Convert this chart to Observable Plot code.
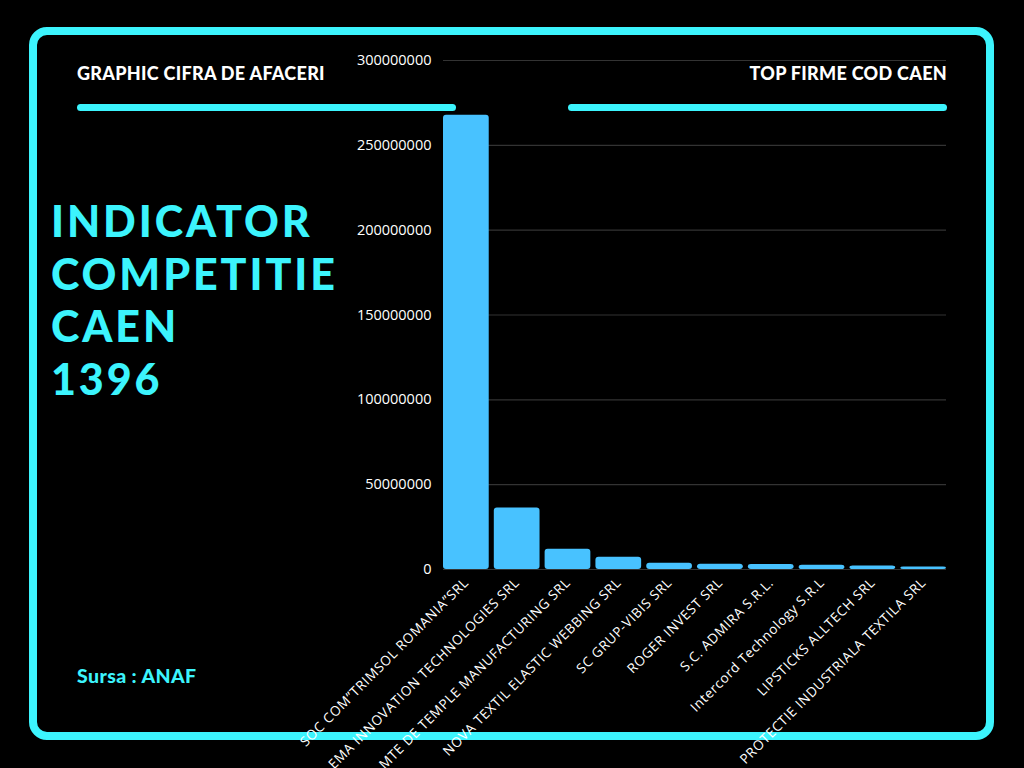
<!DOCTYPE html>
<html>
<head>
<meta charset="utf-8">
<script src="https://cdn.jsdelivr.net/npm/d3@7"></script>
<script src="https://cdn.jsdelivr.net/npm/@observablehq/plot@0.6"></script>
<style>
  html, body { margin: 0; padding: 0; background: #000; }
  body { width: 1024px; height: 768px; position: relative; overflow: hidden; font-family: "Open Sans", sans-serif; }
  .frame { position: absolute; left: 29px; top: 27px; width: 949px; height: 697px; border: 8px solid #3cf4fd; border-radius: 18px; }
  .hdr { position: absolute; color: #fff; font-family: Lato, sans-serif; font-weight: 900; font-size: 18px; top: 62px; letter-spacing: 0.3px; }
  .bar { position: absolute; height: 7px; background: #3cf4fd; border-radius: 4px; top: 104px; }
  .big { position: absolute; left: 51px; top: 195px; color: #3cf4fd; font-family: Lato, sans-serif; font-weight: 900; font-size: 43px; line-height: 52.5px; letter-spacing: 2.9px; }
  .src { position: absolute; left: 77px; top: 664px; color: #3cf4fd; font-family: Lato, sans-serif; font-weight: 900; font-size: 19.5px; letter-spacing: 0.4px; }
  #chart { position: absolute; left: 0; top: 0; }
</style>
</head>
<body>
<div class="frame"></div>
<div class="hdr" style="left:77px">GRAPHIC CIFRA DE AFACERI</div>
<div class="hdr" style="right:77px">TOP FIRME COD CAEN</div>
<div class="bar" style="left:77px; width:379px"></div>
<div class="bar" style="left:568px; width:379px"></div>
<div class="big">INDICATOR<br>COMPETITIE<br>CAEN<br>1396</div>
<div class="src">Sursa : ANAF</div>
<div id="chart"></div>
<script>
const firme = [
  "SOC COM”TRIMSOL ROMANIA”SRL",
  "EMA INNOVATION TECHNOLOGIES SRL",
  "MTE DE TEMPLE MANUFACTURING SRL",
  "NOVA TEXTIL ELASTIC WEBBING SRL",
  "SC GRUP-VIBIS SRL",
  "ROGER INVEST SRL",
  "S.C. ADMIRA S.R.L.",
  "Intercord Technology S.R.L",
  "LIPSTICKS ALLTECH SRL",
  "PROTECTIE INDUSTRIALA TEXTILA SRL"
];
const cifraAfaceri = [267700000, 36300000, 12000000, 7200000, 3700000, 3100000, 2900000, 2500000, 2100000, 1500000];
const yTicks = [0, 50000000, 100000000, 150000000, 200000000, 250000000, 300000000];

const data = firme.map((f, i) => ({firma: f, valoare: cifraAfaceri[i]}));

const chart = Plot.plot({
  width: 1024,
  height: 768,
  marginLeft: 443,
  marginRight: 78,
  marginTop: 60,
  marginBottom: 199,
  style: {background: "transparent", color: "#fff", fontFamily: "'Open Sans', sans-serif", overflow: "visible"},
  x: {domain: firme, paddingInner: 0.1, paddingOuter: 0, round: false, label: null},
  y: {domain: [0, 300000000], label: null},
  marks: [
    Plot.gridY(yTicks, {stroke: "#333", strokeOpacity: 1, strokeWidth: 1.2}),
    Plot.barY(data, {x: "firma", y: "valoare", fill: "#48c2ff", rx: 3}),
    Plot.axisY(yTicks, {tickSize: 0, tickPadding: 12, tickFormat: d3.format("d"), fontSize: 14.5, fill: "#fff", label: null}),
    Plot.axisX({tickSize: 0, tickPadding: 11, tickRotate: -45, fontSize: 13.5, fill: "#fff", label: null})
  ]
});
d3.select(chart).selectAll('g[aria-label="x-axis tick label"] text').attr("letter-spacing", "0.6px");
document.getElementById("chart").appendChild(chart);
</script>
</body>
</html>
